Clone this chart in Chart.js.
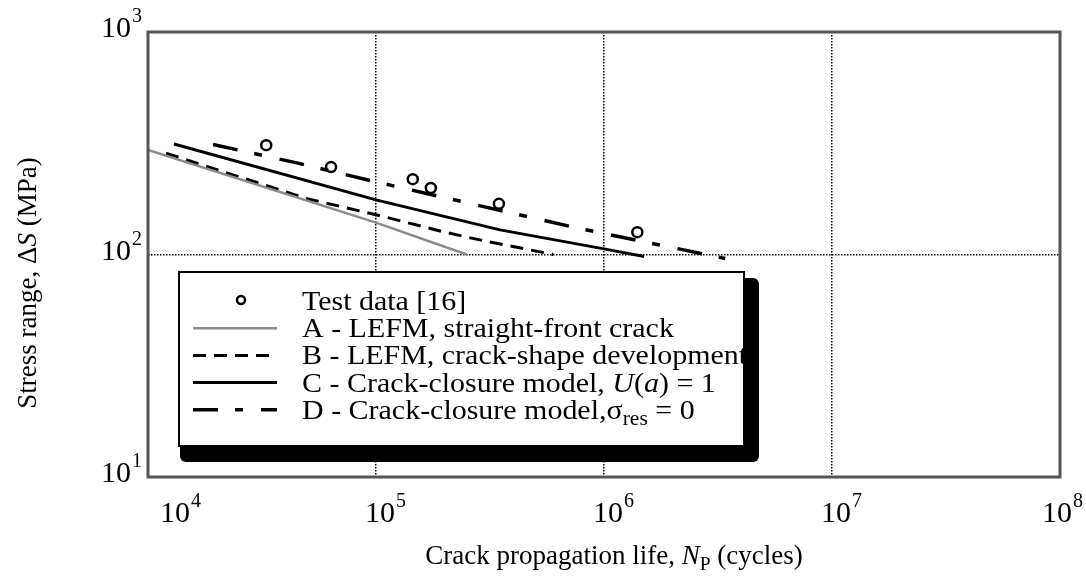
<!DOCTYPE html>
<html>
<head>
<meta charset="utf-8">
<script src="https://cdn.jsdelivr.net/npm/chart.js@4.4.0/dist/chart.umd.min.js"></script>
<style>
  body { margin: 0; background: #fff; }
  #wrap { width: 1086px; height: 580px; }
</style>
</head>
<body>
<div id="wrap"><canvas id="crackChart" width="1086" height="580"></canvas></div>
<script>
var serif = '"Liberation Serif", "Times New Roman", serif';

// axis decades
var xTicks = [1e4, 1e5, 1e6, 1e7, 1e8];
var yTicks = [10, 100, 1000];

// test data [16]
var testN = [33000, 63500, 145000, 174000, 346000, 1400000];
var testS = [310, 247, 218, 199, 169, 126];

// A - LEFM, straight-front crack
var aN = [10000, 100000, 250000];
var aS = [295, 139, 100];

// B - LEFM, crack-shape development
var bN = [12000, 50000, 100000, 200000, 300000, 600000];
var bS = [285, 178, 151, 126, 115, 100];

// C - crack-closure model, U(a) = 1
var cN = [13000, 100000, 350000, 1000000, 1500000];
var cS = [314, 176, 129, 106, 98];

// D - crack-closure model, sigma_res = 0
var dN = [19300, 45000, 100000, 750000, 3400000];
var dS = [312, 258, 212, 132, 96];

// legend texts, pieces: [text, style] style: n / i (italic) / s (subscript)
var legendText = [
    [['Test data [16]', 'n']],
    [['A - LEFM, straight-front crack', 'n']],
    [['B - LEFM, crack-shape development', 'n']],
    [['C - Crack-closure model, ', 'n'], ['U', 'i'], ['(', 'n'], ['a', 'i'], [') = 1', 'n']],
    [['D - Crack-closure model,', 'n'], ['\u03c3', 'n'], ['res', 's'], [' = 0', 'n']]
];
var xTitle = [['Crack propagation life, ', 'n'], ['N', 'i'], ['P', 's'], [' (cycles)', 'n']];
var yTitle = [['Stress range, \u0394', 'n'], ['S', 'i'], [' (MPa)', 'n']];

function pts(xs, ys){
    return xs.map(function(x, i){ return {x: x, y: ys[i]}; });
}

function richFont(st, size){
    if (st == 's') return (size * 0.72) + 'px ' + serif;
    if (st == 'i') return 'italic ' + size + 'px ' + serif;
    return size + 'px ' + serif;
}

function richWidth(ctx, parts, size){
    var w = 0;
    parts.forEach(function(p){
        ctx.font = richFont(p[1], size);
        w += ctx.measureText(p[0]).width;
    });
    return w;
}

// stretch: horizontal scale factor for the text
function drawRich(ctx, parts, x, y, size, stretch){
    stretch = stretch || 1;
    ctx.save();
    ctx.translate(x, y);
    ctx.scale(stretch, 1);
    ctx.textAlign = 'left';
    ctx.textBaseline = 'alphabetic';
    var cx = 0;
    parts.forEach(function(p){
        ctx.font = richFont(p[1], size);
        var dy = p[1] == 's' ? size * 0.22 : 0;
        ctx.fillText(p[0], cx, dy);
        cx += ctx.measureText(p[0]).width;
    });
    ctx.restore();
}

function drawPower(ctx, exp, x, y, align){
    ctx.textBaseline = 'alphabetic';
    ctx.textAlign = 'left';
    ctx.font = '30px ' + serif;
    var w1 = ctx.measureText('10').width;
    ctx.font = '20px ' + serif;
    var w2 = ctx.measureText(exp).width;
    var x0 = x;
    if (align == 'right') x0 = x - w1 - w2;
    if (align == 'center') x0 = x - w1 / 2;
    ctx.font = '30px ' + serif;
    ctx.fillText('10', x0, y);
    ctx.font = '20px ' + serif;
    ctx.fillText(exp, x0 + w1 + 1, y - 15);
}

var framePlugin = {
    id: 'frame',
    afterDatasetsDraw: function(chart){
        var ctx = chart.ctx, a = chart.chartArea;
        ctx.save();
        ctx.strokeStyle = '#555';
        ctx.lineWidth = 3;
        ctx.strokeRect(a.left, a.top, a.right - a.left, a.bottom - a.top);
        ctx.restore();
    }
};

var legendPlugin = {
    id: 'boxLegend',
    afterDatasetsDraw: function(chart){
        var ctx = chart.ctx;
        var bx = 179, by = 272, bw = 565, bh = 174;
        ctx.save();
        // thick shadow on right and bottom
        ctx.fillStyle = '#000';
        ctx.beginPath();
        ctx.roundRect(bx + 1, by + 6, bw + 14, bh + 10, 6);
        ctx.fill();
        ctx.fillStyle = '#fff';
        ctx.fillRect(bx, by, bw, bh);
        ctx.strokeStyle = '#000';
        ctx.lineWidth = 2;
        ctx.strokeRect(bx, by, bw, bh);

        var base0 = 310, step = 27.2;
        chart.data.datasets.forEach(function(ds, i){
            var base = base0 + i * step;
            var my = base - 9;
            ctx.fillStyle = '#000';
            if (ds.showLine) {
                ctx.strokeStyle = ds.borderColor;
                ctx.lineWidth = ds.borderWidth;
                ctx.setLineDash(ds.borderDash || []);
                ctx.beginPath();
                ctx.moveTo(193, my);
                ctx.lineTo(277, my);
                ctx.stroke();
                ctx.setLineDash([]);
            } else {
                ctx.strokeStyle = '#000';
                ctx.lineWidth = 2.5;
                ctx.beginPath();
                ctx.arc(241, my - 1, 4, 0, Math.PI * 2);
                ctx.stroke();
            }
            drawRich(ctx, legendText[i], 302, base, 28, 1.07);
        });
        ctx.restore();
    },
    afterDraw: function(chart){
        var ctx = chart.ctx, a = chart.chartArea;
        var xs = chart.scales.x, ys = chart.scales.y;
        ctx.save();
        ctx.fillStyle = '#000';
        xTicks.forEach(function(v, i){
            var px = xs.getPixelForValue(v);
            var exp = String(Math.round(Math.log10(v)));
            if (i == 0) drawPower(ctx, exp, px + 12, a.bottom + 45, 'left');
            else if (i == xTicks.length - 1) drawPower(ctx, exp, px - 18, a.bottom + 45, 'left');
            else drawPower(ctx, exp, px + 4, a.bottom + 45, 'center');
        });
        yTicks.forEach(function(v){
            var py = ys.getPixelForValue(v);
            drawPower(ctx, String(Math.round(Math.log10(v))), 141, py + 5, 'right');
        });
        // axis titles
        var w = richWidth(ctx, xTitle, 27);
        drawRich(ctx, xTitle, 614 - w / 2, 564, 27);
        ctx.translate(36, 283);
        ctx.rotate(-Math.PI / 2);
        w = richWidth(ctx, yTitle, 27);
        drawRich(ctx, yTitle, -w / 2, 0, 27);
        ctx.restore();
    }
};

var ctx = document.getElementById('crackChart');
var crackChart = new Chart(ctx, {
    type: 'scatter',
    data: {
        datasets: [
            {
                label: 'Test data [16]',
                data: pts(testN, testS),
                showLine: false,
                pointStyle: 'circle',
                pointRadius: 5,
                pointBorderWidth: 2.5,
                pointBorderColor: '#000',
                pointBackgroundColor: 'rgba(0,0,0,0)'
            },
            {
                label: 'A - LEFM, straight-front crack',
                data: pts(aN, aS),
                showLine: true,
                borderColor: '#8a8a8a',
                borderWidth: 2.5,
                pointRadius: 0
            },
            {
                label: 'B - LEFM, crack-shape development',
                data: pts(bN, bS),
                showLine: true,
                borderColor: '#000',
                borderWidth: 3,
                borderDash: [13, 8],
                pointRadius: 0
            },
            {
                label: 'C - Crack-closure model, U(a) = 1',
                data: pts(cN, cS),
                showLine: true,
                borderColor: '#000',
                borderWidth: 3,
                pointRadius: 0
            },
            {
                label: 'D - Crack-closure model, \u03c3res = 0',
                data: pts(dN, dS),
                showLine: true,
                borderColor: '#000',
                borderWidth: 3.5,
                borderDash: [25, 17, 8, 18],
                pointRadius: 0
            }
        ]
    },
    options: {
        responsive: false,
        animation: false,
        events: [],
        layout: { padding: { left: 148, top: 32, right: 26, bottom: 103 } },
        plugins: {
            legend: { display: false },
            tooltip: { enabled: false }
        },
        scales: {
            x: {
                type: 'logarithmic',
                min: 1e4,
                max: 1e8,
                afterBuildTicks: function(scale){
                    scale.ticks = xTicks.map(function(v){ return {value: v}; });
                },
                ticks: { display: false },
                grid: { color: '#000', lineWidth: 1.5, drawTicks: false },
                border: { display: false, dash: [1.5, 1.5] },
                title: { display: false }
            },
            y: {
                type: 'logarithmic',
                min: 10,
                max: 1000,
                afterBuildTicks: function(scale){
                    scale.ticks = yTicks.map(function(v){ return {value: v}; });
                },
                ticks: { display: false },
                grid: { color: '#000', lineWidth: 1.5, drawTicks: false },
                border: { display: false, dash: [1.5, 1.5] },
                title: { display: false }
            }
        }
    },
    plugins: [framePlugin, legendPlugin]
});
</script>
</body>
</html>
